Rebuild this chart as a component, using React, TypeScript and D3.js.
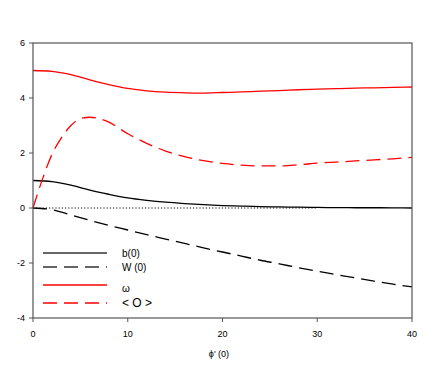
import React, { useEffect, useRef } from 'react';
import * as d3 from 'd3';

const phi = [0, 2, 4, 6, 8, 10, 12, 14, 16, 18, 20, 22, 24, 26, 28, 30, 32, 34, 36, 38, 40];
const omega = [5.0, 4.97, 4.85, 4.66, 4.49, 4.35, 4.26, 4.21, 4.19, 4.18, 4.2, 4.22, 4.25, 4.27, 4.3, 4.32, 4.34, 4.36, 4.37, 4.39, 4.4];
const bZero = [1.0, 0.96, 0.83, 0.65, 0.5, 0.37, 0.28, 0.21, 0.16, 0.12, 0.09, 0.07, 0.05, 0.04, 0.03, 0.02, 0.015, 0.01, 0.01, 0.005, 0.0];
const wZero = [0, -0.06, -0.25, -0.45, -0.63, -0.8, -0.97, -1.13, -1.29, -1.45, -1.6, -1.75, -1.9, -2.03, -2.17, -2.3, -2.42, -2.54, -2.66, -2.77, -2.87];

const phiO = [0, 1, 2, 3, 4, 5, 6, 7, 8, 10, 12, 14, 16, 18, 20, 22, 24, 26, 28, 30, 32, 34, 36, 38, 40];
const avgO = [0, 1.05, 1.95, 2.55, 3.0, 3.25, 3.3, 3.25, 3.12, 2.7, 2.35, 2.07, 1.87, 1.72, 1.62, 1.56, 1.53, 1.53, 1.57, 1.63, 1.67, 1.71, 1.75, 1.79, 1.84];

const xTicks = [0, 10, 20, 30, 40];
const yTicks = [-4, -2, 0, 2, 4, 6];
const legendLabels = ['b(0)', 'W (0)', 'ω', '< O >'];

export default function App() {
  const ref = useRef<SVGSVGElement>(null);

  useEffect(() => {
    const svg = d3.select(ref.current);
    svg.selectAll('*').remove();

    const x = d3.scaleLinear().domain([0, 40]).range([33, 412]);
    const y = d3.scaleLinear().domain([-4, 6]).range([318, 43]);
    const font = 'Liberation Sans, Arial, sans-serif';

    const line = d3
      .line<[number, number]>()
      .x((d) => x(d[0]))
      .y((d) => y(d[1]))
      .curve(d3.curveMonotoneX);

    // zero reference (dotted)
    svg
      .append('line')
      .attr('x1', x(0))
      .attr('x2', x(30))
      .attr('y1', y(0))
      .attr('y2', y(0))
      .attr('stroke', '#000')
      .attr('stroke-width', 1)
      .attr('stroke-dasharray', '1.2,2');

    const series = [
      { xs: phi, ys: bZero, color: '#000', dash: null },
      { xs: phi, ys: wZero, color: '#000', dash: '14,7' },
      { xs: phi, ys: omega, color: '#ff0000', dash: null },
      { xs: phiO, ys: avgO, color: '#ff0000', dash: '14,7' },
    ];

    series.forEach((s) => {
      const pts = s.xs.map((v, i) => [v, s.ys[i]] as [number, number]);
      svg
        .append('path')
        .attr('d', line(pts))
        .attr('fill', 'none')
        .attr('stroke', s.color)
        .attr('stroke-width', 1.3)
        .attr('stroke-dasharray', s.dash);
    });

    // frame
    svg
      .append('rect')
      .attr('x', 33)
      .attr('y', 43)
      .attr('width', 379)
      .attr('height', 275)
      .attr('fill', 'none')
      .attr('stroke', '#555')
      .attr('stroke-width', 1.2);

    // y ticks
    yTicks.forEach((t) => {
      svg
        .append('line')
        .attr('x1', 29)
        .attr('x2', 33)
        .attr('y1', y(t))
        .attr('y2', y(t))
        .attr('stroke', '#555');
      svg
        .append('text')
        .attr('x', 25)
        .attr('y', y(t))
        .attr('dy', '0.35em')
        .attr('text-anchor', 'end')
        .style('font-family', font)
        .style('font-size', '9px')
        .text(t);
    });

    // x ticks
    xTicks.forEach((t) => {
      svg
        .append('line')
        .attr('x1', x(t))
        .attr('x2', x(t))
        .attr('y1', 318)
        .attr('y2', 322)
        .attr('stroke', '#555');
      svg
        .append('text')
        .attr('x', x(t))
        .attr('y', 337)
        .attr('text-anchor', 'middle')
        .style('font-family', font)
        .style('font-size', '9px')
        .text(t);
    });

    svg
      .append('text')
      .attr('x', 219)
      .attr('y', 357)
      .attr('text-anchor', 'middle')
      .style('font-family', font)
      .style('font-size', '9px')
      .text("ϕ' (0)");

    // legend
    const legY = [253, 267, 285, 303];
    series.forEach((s, i) => {
      svg
        .append('line')
        .attr('x1', 43)
        .attr('x2', 107)
        .attr('y1', legY[i])
        .attr('y2', legY[i])
        .attr('stroke', s.color === '#000' ? '#333' : s.color)
        .attr('stroke-width', 1.3)
        .attr('stroke-dasharray', s.dash);
      svg
        .append('text')
        .attr('x', 122)
        .attr('y', legY[i] + (i === 2 ? 3 : 0))
        .attr('dy', '0.35em')
        .style('font-family', font)
        .style('font-size', i === 3 ? '12px' : '10px')
        .text(legendLabels[i]);
    });
  }, []);

  return (
    <svg
      ref={ref}
      width={436}
      height={368}
      style={{ display: 'block', position: 'absolute', left: 0, top: 0, background: '#fff' }}
    />
  );
}
